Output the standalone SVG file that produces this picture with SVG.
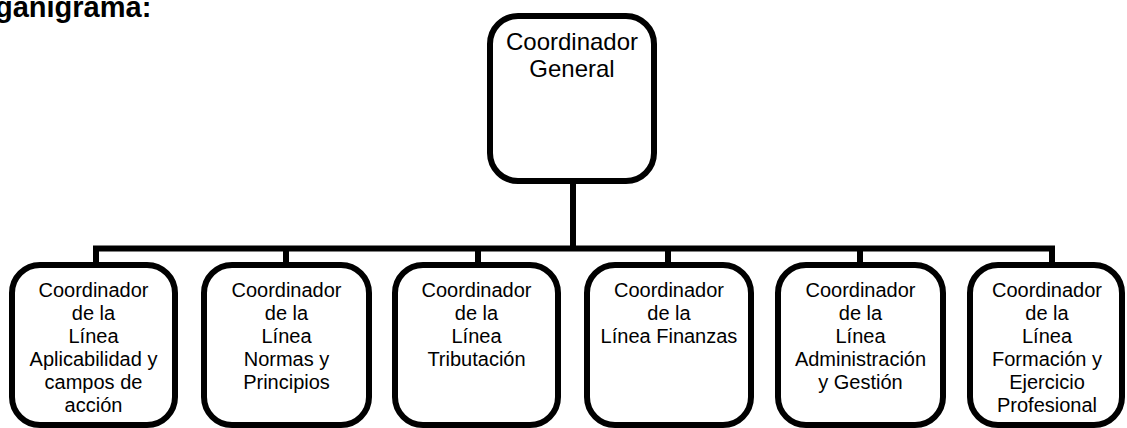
<svg xmlns="http://www.w3.org/2000/svg" width="1127" height="428" viewBox="0 0 1127 428">
<style>
.box{fill:#fff;stroke:#000;stroke-width:6}
.t{font-family:"Liberation Sans",Arial,sans-serif;font-size:20px;fill:#000;text-anchor:middle}
.tt{font-family:"Liberation Sans",Arial,sans-serif;font-size:24px;fill:#000;text-anchor:middle}
.conn{fill:none;stroke:#000;stroke-width:6}
</style>
<rect width="1127" height="428" fill="#fff"/>
<text x="-5" y="17" font-family="Liberation Sans, Arial, sans-serif" font-size="29" font-weight="bold" fill="#000">ganigrama:</text>
<g id="connectors">
<path class="conn" d="M573 181V248.5M93 248.5H1055M96 248.5V265M286 248.5V265M478 248.5V265M668 248.5V265M860 248.5V265M1052 248.5V265"/>
</g>
<g id="n0">
<rect class="box" x="490" y="16" width="164" height="165" rx="28"/>
<text class="tt" x="572" y="50">Coordinador</text>
<text class="tt" x="572" y="77">General</text>
</g>
<g id="n1">
<rect class="box" x="12" y="265" width="163" height="160" rx="28"/>
<text class="t" x="93.5"><tspan x="93.5" y="297">Coordinador</tspan><tspan x="93.5" y="320">de la</tspan><tspan x="93.5" y="343">Línea</tspan><tspan x="93.5" y="366">Aplicabilidad y</tspan><tspan x="93.5" y="389">campos de</tspan><tspan x="93.5" y="412">acción</tspan></text>
</g>
<g id="n2">
<rect class="box" x="204" y="265" width="165" height="160" rx="28"/>
<text class="t"><tspan x="286.5" y="297">Coordinador</tspan><tspan x="286.5" y="320">de la</tspan><tspan x="286.5" y="343">Línea</tspan><tspan x="286.5" y="366">Normas y</tspan><tspan x="286.5" y="389">Principios</tspan></text>
</g>
<g id="n3">
<rect class="box" x="395" y="265" width="163" height="160" rx="28"/>
<text class="t"><tspan x="476.5" y="297">Coordinador</tspan><tspan x="476.5" y="320">de la</tspan><tspan x="476.5" y="343">Línea</tspan><tspan x="476.5" y="366">Tributación</tspan></text>
</g>
<g id="n4">
<rect class="box" x="587" y="265" width="164" height="160" rx="28"/>
<text class="t"><tspan x="669" y="297">Coordinador</tspan><tspan x="669" y="320">de la</tspan><tspan x="669" y="343">Línea Finanzas</tspan></text>
</g>
<g id="n5">
<rect class="box" x="778" y="265" width="165" height="160" rx="28"/>
<text class="t"><tspan x="860.5" y="297">Coordinador</tspan><tspan x="860.5" y="320">de la</tspan><tspan x="860.5" y="343">Línea</tspan><tspan x="860.5" y="366">Administración</tspan><tspan x="860.5" y="389">y Gestión</tspan></text>
</g>
<g id="n6">
<rect class="box" x="970" y="265" width="152" height="160" rx="28"/>
<text class="t"><tspan x="1047" y="297">Coordinador</tspan><tspan x="1047" y="320">de la</tspan><tspan x="1047" y="343">Línea</tspan><tspan x="1047" y="366">Formación y</tspan><tspan x="1047" y="389">Ejercicio</tspan><tspan x="1047" y="412">Profesional</tspan></text>
</g>
</svg>
